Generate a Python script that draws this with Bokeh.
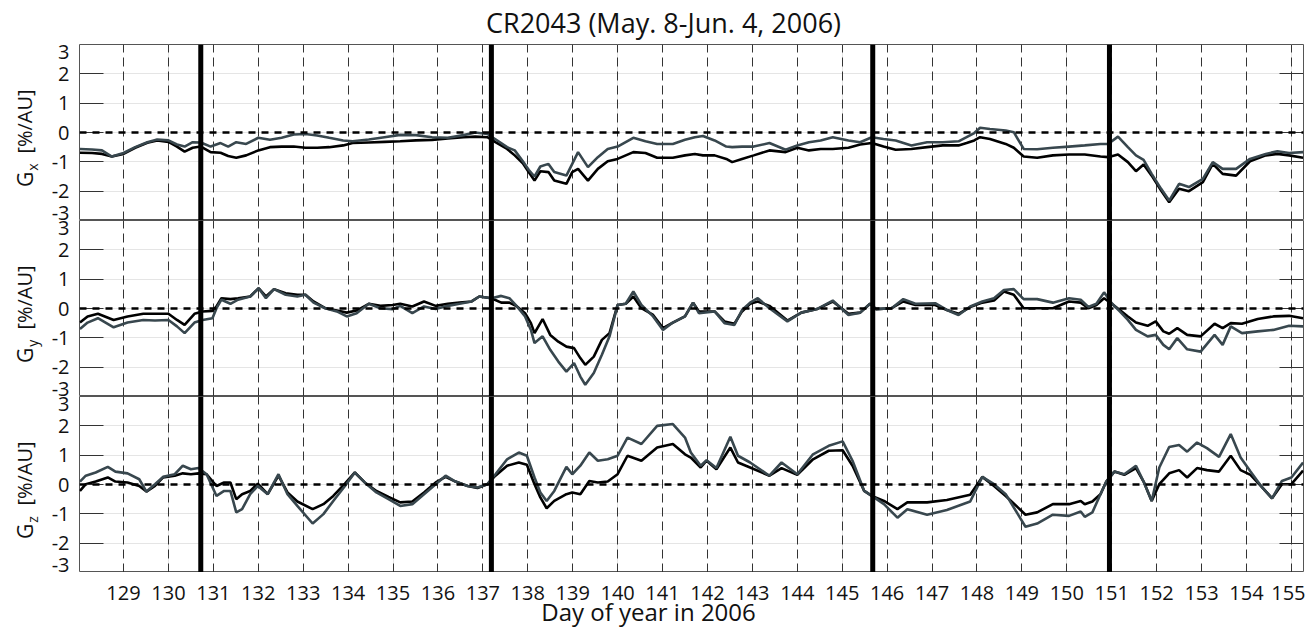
import math
from bokeh.plotting import figure
from bokeh.models import Range1d, FixedTicker, LinearAxis, Span, Grid
from bokeh.core.properties import value
from bokeh.layouts import column, row
from bokeh.embed import file_html
from bokeh.resources import INLINE

# ---------------- data ----------------
day_ticks = list(range(129, 156))
day_labels = [str(d) for d in day_ticks]
y_tick_values = [3, 2, 1, 0, -1, -2, -3]
y_tick_labels = ["3", "2", "1", "0", "-1", "-2", "-3"]
boundaries = [130.72, 137.19, 145.68, 150.95]
title_text = "CR2043 (May. 8-Jun. 4, 2006)"
xlabel_text = "Day of year in 2006"
components = ["x", "y", "z"]

gx_day = [128.03, 128.30, 128.52, 128.74, 129.00, 129.26, 129.53, 129.75, 130.00, 130.19,
          130.36, 130.54, 130.72, 130.94, 131.16, 131.33, 131.51, 131.73, 132.00, 132.26,
          132.52, 132.79, 133.05, 133.31, 133.58, 133.89, 134.10, 134.46, 134.81, 135.16,
          135.51, 135.87, 136.22, 136.57, 136.83, 137.10, 137.28, 137.54, 137.71, 137.89,
          138.02, 138.15, 138.28, 138.46, 138.59, 138.86, 138.99, 139.12, 139.34, 139.56,
          139.78, 140.00, 140.35, 140.62, 140.88, 141.23, 141.50, 141.72, 141.90, 142.16,
          142.42, 142.55, 142.77, 143.03, 143.38, 143.74, 144.00, 144.26, 144.52, 144.79,
          145.14, 145.40, 145.66, 145.92, 146.19, 146.54, 146.89, 147.24, 147.59, 147.77,
          147.94, 148.07, 148.29, 148.64, 148.82, 149.04, 149.34, 149.69, 150.05, 150.40,
          150.75, 150.92, 151.14, 151.36, 151.54, 151.71, 151.89, 152.10, 152.28, 152.50,
          152.72, 153.03, 153.25, 153.47, 153.77, 154.08, 154.43, 154.69, 154.95, 155.26]
gx_grey = [-0.56, -0.58, -0.61, -0.82, -0.70, -0.50, -0.33, -0.24, -0.27, -0.41,
           -0.48, -0.33, -0.34, -0.48, -0.36, -0.48, -0.33, -0.39, -0.18, -0.25,
           -0.18, -0.07, -0.05, -0.10, -0.18, -0.27, -0.30, -0.24, -0.16, -0.08,
           -0.09, -0.16, -0.18, -0.09, 0.00, -0.05, -0.23, -0.50, -0.61, -0.98,
           -1.27, -1.50, -1.16, -1.07, -1.35, -1.47, -1.07, -0.67, -1.18, -0.84,
           -0.56, -0.48, -0.18, -0.30, -0.39, -0.39, -0.25, -0.16, -0.12, -0.27,
           -0.48, -0.50, -0.48, -0.48, -0.36, -0.59, -0.44, -0.33, -0.27, -0.16,
           -0.27, -0.33, -0.16, -0.22, -0.27, -0.44, -0.33, -0.33, -0.30, -0.16,
           -0.02, 0.16, 0.12, 0.07, 0.01, -0.56, -0.57, -0.52, -0.48, -0.44,
           -0.39, -0.39, -0.14, -0.50, -0.78, -0.93, -1.41, -1.92, -2.32, -1.75,
           -1.86, -1.58, -1.01, -1.24, -1.24, -0.90, -0.73, -0.64, -0.70, -0.67]
gx_black = [-0.69, -0.70, -0.73, -0.82, -0.73, -0.52, -0.35, -0.27, -0.32, -0.48,
            -0.65, -0.52, -0.48, -0.67, -0.69, -0.80, -0.86, -0.78, -0.61, -0.50,
            -0.48, -0.48, -0.52, -0.52, -0.50, -0.44, -0.36, -0.34, -0.32, -0.30,
            -0.27, -0.25, -0.20, -0.16, -0.14, -0.16, -0.33, -0.56, -0.78, -1.05,
            -1.35, -1.64, -1.32, -1.35, -1.64, -1.75, -1.35, -1.24, -1.64, -1.24,
            -0.98, -0.90, -0.67, -0.70, -0.86, -0.86, -0.78, -0.73, -0.78, -0.78,
            -0.90, -1.01, -0.90, -0.78, -0.61, -0.67, -0.52, -0.61, -0.56, -0.56,
            -0.52, -0.41, -0.36, -0.48, -0.59, -0.56, -0.50, -0.44, -0.44, -0.36,
            -0.27, -0.16, -0.22, -0.39, -0.52, -0.82, -0.86, -0.78, -0.75, -0.75,
            -0.82, -0.84, -0.75, -1.01, -1.32, -1.09, -1.47, -1.98, -2.38, -1.92,
            -2.00, -1.69, -1.07, -1.41, -1.47, -0.98, -0.78, -0.73, -0.78, -0.86]

gy_day = [128.03, 128.20, 128.43, 128.78, 129.09, 129.44, 129.70, 130.00, 130.19, 130.36,
          130.58, 130.76, 130.98, 131.07, 131.18, 131.38, 131.55, 131.82, 132.01, 132.17,
          132.35, 132.61, 132.87, 133.05, 133.23, 133.49, 133.75, 133.97, 134.19, 134.46,
          134.72, 134.99, 135.16, 135.43, 135.69, 135.95, 136.22, 136.48, 136.75, 136.92,
          137.19, 137.41, 137.59, 137.76, 137.94, 138.07, 138.15, 138.33, 138.50, 138.68,
          138.86, 139.03, 139.17, 139.28, 139.47, 139.65, 139.82, 140.00, 140.18, 140.35,
          140.53, 140.79, 141.01, 141.23, 141.50, 141.68, 141.81, 142.16, 142.38, 142.60,
          142.77, 142.95, 143.12, 143.38, 143.78, 144.09, 144.44, 144.79, 145.14, 145.40,
          145.62, 145.75, 146.10, 146.36, 146.63, 147.07, 147.33, 147.59, 147.85, 148.12,
          148.38, 148.60, 148.82, 149.04, 149.34, 149.69, 150.05, 150.31, 150.48, 150.66,
          150.83, 151.00, 151.18, 151.36, 151.54, 151.80, 151.98, 152.15, 152.28, 152.46,
          152.68, 152.98, 153.29, 153.47, 153.65, 153.90, 154.25, 154.60, 154.95, 155.26]
gy_grey = [-0.70, -0.48, -0.33, -0.64, -0.48, -0.39, -0.41, -0.39, -0.61, -0.84,
           -0.48, -0.39, -0.33, 0.01, 0.30, 0.16, 0.30, 0.41, 0.69, 0.35,
           0.66, 0.47, 0.41, 0.47, 0.20, 0.01, -0.10, -0.27, -0.16, 0.16,
           0.01, -0.02, 0.09, -0.16, 0.07, -0.02, 0.09, 0.16, 0.24, 0.41,
           0.35, 0.43, 0.35, 0.07, -0.27, -0.73, -1.18, -0.95, -1.41, -1.81,
           -2.15, -1.86, -2.32, -2.60, -2.20, -1.58, -0.95, 0.12, 0.16, 0.58,
           0.12, -0.27, -0.73, -0.48, -0.27, 0.20, -0.16, -0.10, -0.50, -0.56,
           -0.05, 0.20, 0.35, 0.01, -0.44, -0.14, -0.02, 0.27, -0.22, -0.14,
           0.16, -0.02, 0.01, 0.32, 0.16, 0.18, -0.05, -0.22, 0.07, 0.24,
           0.35, 0.63, 0.66, 0.32, 0.32, 0.20, 0.35, 0.30, 0.05, 0.16,
           0.55, 0.18, -0.10, -0.39, -0.73, -0.95, -0.90, -1.24, -1.39, -1.01,
           -1.39, -1.47, -0.90, -1.24, -0.61, -0.84, -0.78, -0.73, -0.59, -0.61]
gy_black = [-0.48, -0.27, -0.18, -0.39, -0.27, -0.18, -0.18, -0.18, -0.39, -0.56,
            -0.18, -0.10, -0.08, 0.07, 0.35, 0.32, 0.35, 0.41, 0.69, 0.41,
            0.66, 0.52, 0.47, 0.47, 0.24, 0.01, -0.07, -0.14, -0.07, 0.16,
            0.09, 0.12, 0.16, 0.07, 0.24, 0.09, 0.16, 0.20, 0.24, 0.41,
            0.35, 0.20, 0.20, 0.07, -0.16, -0.50, -0.84, -0.36, -0.90, -1.13,
            -1.30, -1.35, -1.69, -1.92, -1.64, -1.07, -0.84, 0.12, 0.16, 0.41,
            0.01, -0.22, -0.67, -0.48, -0.27, 0.20, -0.10, -0.10, -0.44, -0.52,
            -0.10, 0.16, 0.24, 0.09, -0.41, -0.14, -0.02, 0.24, -0.18, -0.14,
            0.16, -0.02, 0.01, 0.24, 0.12, 0.12, -0.05, -0.18, 0.05, 0.20,
            0.27, 0.58, 0.47, 0.01, 0.01, 0.01, 0.24, 0.20, 0.01, 0.12,
            0.35, 0.16, -0.05, -0.27, -0.48, -0.59, -0.44, -0.78, -0.86, -0.67,
            -0.90, -0.95, -0.52, -0.67, -0.50, -0.52, -0.36, -0.27, -0.25, -0.33]

gz_day = [128.03, 128.16, 128.38, 128.65, 128.82, 129.09, 129.35, 129.51, 129.70, 129.88,
          130.14, 130.32, 130.50, 130.67, 130.85, 131.07, 131.24, 131.38, 131.51, 131.64,
          131.82, 131.99, 132.21, 132.45, 132.65, 132.87, 133.21, 133.45, 133.67, 133.93,
          134.15, 134.37, 134.63, 134.90, 135.16, 135.43, 135.69, 135.95, 136.17, 136.39,
          136.66, 136.88, 137.10, 137.28, 137.54, 137.80, 137.98, 138.15, 138.28, 138.42,
          138.59, 138.86, 138.99, 139.17, 139.37, 139.56, 139.78, 140.00, 140.22, 140.53,
          140.88, 141.23, 141.50, 141.63, 141.85, 141.98, 142.20, 142.51, 142.68, 142.95,
          143.38, 143.65, 144.00, 144.35, 144.70, 145.01, 145.23, 145.49, 145.66, 145.93,
          146.23, 146.45, 146.89, 147.33, 147.85, 148.12, 148.38, 148.64, 148.91, 149.08,
          149.34, 149.69, 150.05, 150.31, 150.40, 150.57, 150.75, 150.88, 151.06, 151.28,
          151.54, 151.71, 151.89, 152.06, 152.28, 152.50, 152.68, 152.90, 153.12, 153.39,
          153.65, 153.87, 154.09, 154.35, 154.57, 154.79, 155.00, 155.26]
gz_grey = [0.10, 0.30, 0.41, 0.60, 0.44, 0.38, 0.18, -0.24, 0.01, 0.26,
           0.35, 0.64, 0.52, 0.56, 0.35, -0.39, -0.22, -0.22, -0.95, -0.84,
           -0.33, -0.05, -0.33, 0.35, -0.33, -0.73, -1.33, -1.01, -0.56, -0.05,
           0.41, 0.07, -0.27, -0.50, -0.73, -0.67, -0.33, 0.01, 0.30, 0.10,
           -0.05, -0.10, 0.01, 0.35, 0.86, 1.09, 0.98, 0.24, -0.27, -0.56,
           -0.22, 0.60, 0.35, 0.64, 1.09, 0.81, 0.86, 0.98, 1.60, 1.38,
           2.00, 2.06, 1.60, 1.09, 0.64, 0.83, 0.56, 1.63, 0.98, 0.75,
           0.30, 0.75, 0.35, 1.03, 1.32, 1.47, 0.81, -0.22, -0.39, -0.67,
           -1.13, -0.84, -1.03, -0.87, -0.58, 0.26, 0.01, -0.33, -1.01, -1.44,
           -1.33, -1.03, -1.07, -0.92, -1.10, -0.95, -0.33, 0.10, 0.44, 0.35,
           0.64, 0.10, -0.56, 0.58, 1.28, 1.35, 1.12, 1.43, 1.24, 0.94,
           1.72, 0.92, 0.44, -0.10, -0.47, 0.12, 0.24, 0.75]
gz_black = [-0.22, 0.01, 0.10, 0.24, 0.10, 0.07, -0.05, -0.24, -0.05, 0.24,
            0.30, 0.38, 0.35, 0.38, 0.35, -0.05, 0.07, 0.07, -0.50, -0.33,
            -0.22, 0.03, -0.33, 0.30, -0.27, -0.58, -0.84, -0.67, -0.39, 0.03,
            0.41, 0.07, -0.22, -0.42, -0.61, -0.58, -0.27, 0.07, 0.26, 0.10,
            -0.05, -0.12, 0.01, 0.30, 0.64, 0.75, 0.67, 0.01, -0.44, -0.81,
            -0.56, -0.33, -0.27, -0.33, 0.12, 0.07, 0.10, 0.35, 0.98, 0.81,
            1.26, 1.38, 1.03, 0.92, 0.58, 0.81, 0.52, 1.26, 0.75, 0.58,
            0.30, 0.56, 0.33, 0.86, 1.15, 1.17, 0.64, -0.22, -0.39, -0.56,
            -0.84, -0.61, -0.61, -0.53, -0.35, 0.26, -0.05, -0.39, -0.78, -1.03,
            -0.95, -0.67, -0.67, -0.56, -0.67, -0.58, -0.33, 0.10, 0.44, 0.33,
            0.56, 0.10, -0.56, 0.01, 0.38, 0.49, 0.24, 0.56, 0.49, 0.44,
            0.98, 0.49, 0.33, -0.10, -0.47, 0.01, 0.01, 0.47]

panels = [
    (gx_day, gx_black, gx_grey),
    (gy_day, gy_black, gy_grey),
    (gz_day, gz_black, gz_grey),
]

# ---------------- styling / layout constants ----------------
FONT = "Open Sans"
GREY = "#38474e"
TXT = "#111111"
PAGE_W = 1307
TITLE_H = 44
BOTTOM_H = 56
LAB_W = 75
FRAME_L = 79
FRAME_W, FRAME_H = 1224, 176
TOTAL_H = TITLE_H + 3 * FRAME_H + BOTTOM_H
X0, X1 = 128.02, 155.27
x_range = Range1d(X0, X1)
UNIT = FRAME_H / 6.0
EDGE = 2.73   # where the "3"/"-3" labels sit (nudged inside as in original)


def blank_fig(w, h, xr, yr, left=0, right=0):
    f = figure(frame_width=w, frame_height=h, x_range=xr, y_range=yr,
               x_axis_location=None, y_axis_location=None,
               output_backend="svg", toolbar_location=None,
               min_border=0, min_border_left=left, min_border_right=right,
               outline_line_color=None,
               background_fill_color="white", border_fill_color="white")
    for g in f.grid:
        g.visible = False
    return f


def txt(f, x, y, t, size, align="center", angle=0.0, **kw):
    f.text(x=x, y=y, text=t, angle=angle, text_align=align,
           text_baseline="middle", text_font=value(FONT),
           text_font_size=value(size), text_color=TXT, **kw)


# ---- left strip: y tick labels and y labels, one y range per panel ----
lfig = blank_fig(LAB_W, TOTAL_H, Range1d(0, LAB_W), Range1d(0, TOTAL_H))
for k, comp in enumerate(components):
    top = TITLE_H + k * FRAME_H
    name = "p%d" % k
    lfig.extra_y_ranges[name] = Range1d(3 - (TOTAL_H - top) / UNIT, 3 + top / UNIT)
    pos = [EDGE if v == 3 else (-EDGE if v == -3 else v) for v in y_tick_values]
    txt(lfig, [69] * len(pos), pos, y_tick_labels, "20px", align="right",
        y_range_name=name)
    txt(lfig, [24], [-1.86], ["G"], "21px", align="left", angle=math.pi / 2,
        y_range_name=name)
    txt(lfig, [32], [-1.30], [comp], "14px", align="left", angle=math.pi / 2,
        y_range_name=name)
    txt(lfig, [24], [-0.72], ["[%/AU]"], "20px", align="left", angle=math.pi / 2,
        y_range_name=name)

# ---- title strip ----
RW = PAGE_W - FRAME_L
tfig = blank_fig(RW, TITLE_H, Range1d(FRAME_L, PAGE_W), Range1d(0, TITLE_H),
                 left=FRAME_L - LAB_W)
txt(tfig, [663], [TITLE_H - 22], [title_text], "27px", align="center")

# ---- bottom strip: x tick labels and x label ----
bx_end = X0 + RW * (X1 - X0) / FRAME_W
bfig = blank_fig(RW, BOTTOM_H, Range1d(X0, bx_end), Range1d(0, BOTTOM_H),
                 left=FRAME_L - LAB_W)
bfig.extra_x_ranges["px"] = Range1d(FRAME_L, PAGE_W)
x_off = [0] * (len(day_ticks) - 1) + [-3]
txt(bfig, day_ticks, [BOTTOM_H - 20] * len(day_ticks), day_labels, "20px",
    x_offset=x_off)
txt(bfig, [648], [BOTTOM_H - 39], [xlabel_text], "24px", align="center",
    x_range_name="px")

# ---- the three panels ----
figs = [tfig]
for i, (d, blk, gry) in enumerate(panels):
    p = figure(frame_width=FRAME_W, frame_height=FRAME_H,
               x_range=x_range, y_range=Range1d(-3, 3),
               x_axis_location=None, y_axis_location=None,
               output_backend="svg", toolbar_location=None,
               min_border=0, min_border_left=FRAME_L - LAB_W, min_border_right=4,
               background_fill_color="white", border_fill_color="white",
               outline_line_color="#555555", outline_line_width=1)
    p.add_layout(Grid(dimension=0, ticker=FixedTicker(ticks=day_ticks),
                      grid_line_color="#333333", grid_line_width=1,
                      grid_line_dash="9 5"))
    for side in ("left", "right"):
        ax = LinearAxis(ticker=FixedTicker(ticks=[], minor_ticks=y_tick_values[1:-1]),
                        major_tick_in=0, major_tick_out=0,
                        minor_tick_in=24, minor_tick_out=0,
                        minor_tick_line_color="#333333",
                        axis_line_color=None, major_label_standoff=0,
                        major_label_text_font_size="1px")
        p.add_layout(ax, side)

    p.add_layout(Span(location=0, dimension="width", line_color="black",
                      line_width=2.5, line_dash="7 6"))
    for b in boundaries:
        p.add_layout(Span(location=b, dimension="height", line_color="black",
                          line_width=5))

    p.line(d, blk, line_color="black", line_width=2.6)
    p.line(d, gry, line_color=GREY, line_width=2.6)
    figs.append(p)
figs.append(bfig)

layout = row(lfig, column(*figs, spacing=0), spacing=0)
open("out.html", "w").write(file_html(layout, INLINE))
